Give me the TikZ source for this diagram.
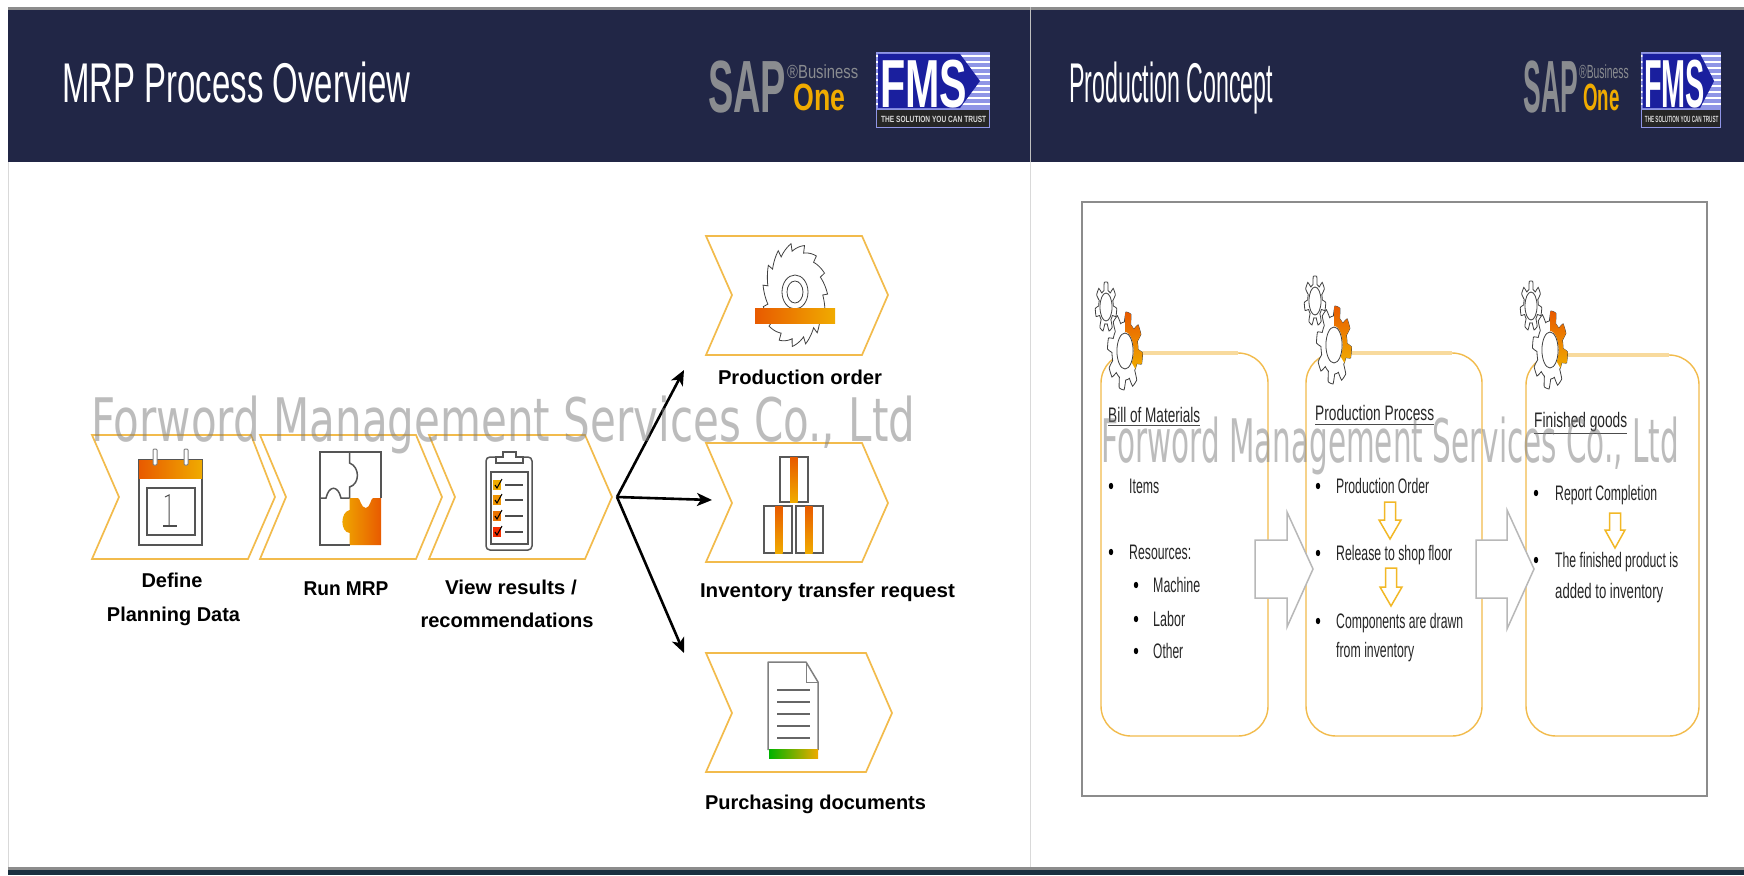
\documentclass[tikz,border=0pt]{standalone}
\usepackage{fontspec}
\setmainfont{Liberation Sans}
\newfontfamily\wmfont{DejaVu Sans}
\usetikzlibrary{calc,arrows.meta}
\definecolor{navy}{HTML}{212646}
\definecolor{gold}{HTML}{F2BB4C}
\definecolor{org}{HTML}{E85A00}
\definecolor{amb}{HTML}{F0AB00}
\definecolor{ico}{HTML}{555555}
\definecolor{sapgray}{HTML}{8A8C90}
\definecolor{fmsblue}{HTML}{1A1F9E}
\definecolor{fmslilac}{HTML}{8F95E6}
\definecolor{teal}{HTML}{1A2F3F}
\newcommand{\fitw}[2]{\resizebox{#1pt}{\height}{#2}}
\newcommand{\gearplot}[5]{plot[domain=#4:#5,samples=241,variable=\x] ({(#1+#2*max(-1,min(1,2.5*sin(#3*\x))))*cos(\x)},{(#1+#2*max(-1,min(1,2.5*sin(#3*\x))))*sin(\x)})}
\newcommand{\gearpair}[2]{%
  \begin{scope}[shift={(#1-19,#2-44)},xscale=.43]
    \draw[gearline,fill=white] \gearplot{21}{4}{7}{0}{360} -- cycle;
    \draw[gearline] (0,0) circle[radius=14pt];
  \end{scope}
  \begin{scope}[shift={(#1,#2)},xscale=.45]
    \draw[gearline,fill=white] \gearplot{34}{5}{8}{0}{360} -- cycle;
    \shade[top color=org,bottom color=amb] \gearplot{34}{5}{8}{-90}{38} -- plot[domain=38:-90,samples=60,variable=\x] ({19*cos(\x)},{19*sin(\x)}) -- cycle;
    \draw[gearline] (0,0) circle[radius=18pt];
  \end{scope}}
\newcommand{\logos}[3]{%
  \begin{scope}[shift={(#1,0)},xscale=#2,shift={(-707,0)},transform shape]
    \node[logotxt,text=sapgray,font=\fontsize{74}{74}\selectfont\bfseries] (#3sap) at (708,112) {\fitw{78}{SAP}};
    \node[logotxt,text=sapgray,font=\fontsize{19}{19}\selectfont] (#3biz) at (787,78) {\fitw{71}{®Business}};
    \node[logotxt,text=amb,font=\fontsize{38}{38}\selectfont\bfseries] (#3one) at (793,110) {\fitw{52}{One}};
    \fill[fmslilac] (876,52) rectangle (990,128);
    \foreach \yy in {56,62,...,104} \draw[white,line width=1.2pt] (876,\yy) -- (990,\yy);
    \fill[fmsblue] (878,54) -- (960,54) -- (980,81) -- (960,108) -- (878,108) -- cycle;
    \node[logotxt,text=white,font=\fontsize{68}{68}\selectfont\bfseries] (#3fms) at (880,107) {\fitw{87}{FMS}};
    \fill[black!85] (877,110) rectangle (989,127);
    \node[logotxt,text=white!85!black,font=\fontsize{9}{9}\selectfont\bfseries] (#3tag) at (881,122) {\fitw{105}{THE SOLUTION YOU CAN TRUST}};
  \end{scope}}
\tikzset{
  x=1pt,y=-1pt,
  chev/.style={draw=gold,line width=1.7pt,line join=miter,fill=white},
  gearline/.style={draw=black!75,line width=.8pt},
  icon/.style={draw=ico,line width=1.5pt},
  logotxt/.style={anchor=base west,inner sep=0pt},
  title/.style={anchor=base west,inner sep=0pt,text=white,font=\fontsize{56}{56}\selectfont},
  lab/.style={anchor=base,inner sep=0pt,text=black,font=\fontsize{20}{20}\selectfont\bfseries},
  body/.style={anchor=base west,inner sep=0pt,text=black!85,font=\fontsize{21}{21}\selectfont},
  roundbox/.style={draw=gold,line width=1.4pt,rounded corners=30pt,fill=white,inner sep=0pt},
  blockarrow/.style={draw=black!28,line width=1.5pt,fill=white,line join=miter},
  smallarrow/.style={draw=amb!85!white,line width=1.5pt,fill=white,line join=miter},
  wm/.style={anchor=base west,inner sep=0pt,text=black!52,opacity=.5,font=\wmfont\fontsize{60}{60}\selectfont},
  dot/.style={fill=black},
  conn/.style={draw=black,line width=2.6pt,-{Stealth[length=15pt,width=13pt,inset=4pt]}},
}
\begin{document}
\begin{tikzpicture}
\useasboundingbox (0,0) rectangle (1744,875);
\fill[white] (0,0) rectangle (1744,875);
% panel frames
\draw[black!15,line width=1pt] (8,162) -- (8,868);
\draw[black!15,line width=1.2pt] (1030.5,162) -- (1030.5,875);
\fill[black!45] (8,7) rectangle (1744,10);
\fill[navy] (8,10) rectangle (1744,162);
\draw[white!75!black,line width=1pt] (1030.5,7) -- (1030.5,162);
\fill[teal] (8,869) rectangle (1744,875);
\fill[black!45] (8,867) rectangle (1744,869.5);
% titles
\node[title] (t1) at (62,102) {\fitw{348}{MRP Process Overview}};
\node[title] (t2) at (1069,102) {\fitw{204}{Production Concept}};
\logos{707}{1}{a}
\logos{1523}{.7}{b}
% chevrons
\draw[chev] (92,435) -- (251,435) -- (275,497) -- (248,559) -- (92,559) -- (119,497) -- cycle;
\draw[chev] (260,435) -- (416,435) -- (442,497) -- (416,559) -- (260,559) -- (286,497) -- cycle;
\draw[chev] (429,435) -- (585,435) -- (612,497) -- (585,559) -- (429,559) -- (455,497) -- cycle;
\draw[chev] (706,236) -- (862,236) -- (888,295) -- (862,355) -- (706,355) -- (732,295) -- cycle;
\draw[chev] (706,443) -- (862,443) -- (888,503) -- (862,562) -- (706,562) -- (732,503) -- cycle;
\draw[chev] (706,653) -- (866,653) -- (892,713) -- (866,772) -- (706,772) -- (732,713) -- cycle;
% calendar
\draw[icon] (139,460) rectangle (202,545);
\shade[left color=org,right color=amb] (139,460) rectangle (202,478);
\draw[icon] (147,488) rectangle (195,535);
\draw[black!50,line width=1pt,fill=white,rounded corners=1pt] (153,449) rectangle (157,465);
\draw[black!50,line width=1pt,fill=white,rounded corners=1pt] (184,449) rectangle (188,465);
\draw[black!70,line width=1pt] (165,497) -- (169,495) -- (169,526);
\draw[black!70,line width=1.3pt] (163,526) -- (177,526);
% puzzle
\shade[left color=amb,right color=org] (349.6,498) -- (358,498) .. controls (360,498) and (361,508) .. (365.7,508) .. controls (370,508) and (371,498) .. (373,498) -- (381,498) -- (381,545) -- (349.6,545) -- (349.6,533) .. controls (340,532) and (340,512) .. (349.6,510) -- cycle;
\draw[icon] (349.6,545) -- (320,545) -- (320,452) -- (381,452) -- (381,498);
\draw[icon] (349.6,452) -- (349.6,463) .. controls (360,467) and (360,484) .. (349.6,487) -- (349.6,498);
\draw[icon] (320,498) -- (326,498) .. controls (329,485) and (338,485) .. (341,498) -- (349.6,498);
% clipboard
\draw[icon,rounded corners=4pt] (486,457) rectangle (532,550);
\draw[icon,line width=1.1pt] (491,472) rectangle (528,544);
\draw[icon,fill=white,line width=1.2pt] (496,463) -- (496,457) -- (503,457) -- (503,452) -- (516,452) -- (516,457) -- (523,457) -- (523,463) -- cycle;
\foreach \yy/\cc in {485/amb,500/amb!70!org,516/amb!30!org,532/red!50!org} {
  \fill[\cc] (493,\yy-5) rectangle (501,\yy+5);
  \draw[black,line width=1pt] (495,\yy) -- (497,\yy+3) -- (502,\yy-6);
  \draw[black!70,line width=1.4pt] (505,\yy) -- (523,\yy);
}
% saw
\begin{scope}[shift={(795,295)},xscale=.63]
  \draw[gearline,fill=white] plot[domain=0:360,samples=361,variable=\x] ({(44+8*mod(15*\x,360)/360)*cos(\x)},{(44+8*mod(15*\x,360)/360)*sin(\x)}) -- cycle;
\end{scope}
\draw[gearline] (795,292) ellipse[x radius=13pt,y radius=17pt];
\draw[gearline] (795,292) ellipse[x radius=8pt,y radius=11pt];
\shade[left color=org,right color=amb] (755,308) rectangle (835,323);
% boxes
\foreach \xa/\xb/\xc/\ya/\yb in {780/808/790/457/502,764/792/775/506/553,796/823/805/506/553} {
  \draw[black!65,line width=1.3pt] (\xa,\ya) rectangle (\xb,\yb);
  \shade[top color=org,bottom color=amb] (\xc,\ya) rectangle (\xc+7.5,\yb);
}
% document
\draw[icon,black!50,line join=round,fill=white] (768,750) -- (768,662) -- (806,662) -- (818,682) -- (818,750);
\draw[icon,black!50,line width=1pt] (806,662) -- (806,682) -- (818,682);
\foreach \yy in {690,702,714,726,738} \draw[black!60,line width=1.5pt] (777,\yy) -- (810,\yy);
\shade[left color=green!70!black,right color=amb] (769,749) rectangle (818,758);
% connectors
\coordinate (fan) at (617,497);
\coordinate (toprod) at (684,370);
\coordinate (toinv) at (712,500);
\coordinate (topur) at (684,653);
\draw[conn] (fan) -- (toprod);
\draw[conn] (fan) -- (toinv);
\draw[conn] (fan) -- (topur);
% left labels
\node[lab] (l1a) at (172,587) {\fitw{61}{Define}};
\node[lab] (l1b) at (173.5,621) {\fitw{133}{Planning Data}};
\node[lab] (l2) at (346,595) {\fitw{85}{Run MRP}};
\node[lab] (l3a) at (511,594) {\fitw{132}{View results /}};
\node[lab] (l3b) at (507,627) {\fitw{173}{recommendations}};
\node[lab] (l4) at (800,384) {\fitw{164}{Production order}};
\node[lab] (l5) at (827.5,597) {\fitw{255}{Inventory transfer request}};
\node[lab] (l6) at (815.5,809) {\fitw{221}{Purchasing documents}};
% right panel
\draw[black!45,line width=1.6pt,fill=white] (1082,202) rectangle (1707,796);
\node[roundbox,minimum width=167pt,minimum height=383pt] (b1) at (1184.5,544.5) {};
\node[roundbox,minimum width=176pt,minimum height=383pt] (b2) at (1394,544.5) {};
\node[roundbox,minimum width=173pt,minimum height=381pt] (b3) at (1612.5,545.5) {};
\draw[gold!55!white,line width=3.5pt] (1130,353) -- (1238,353);
\draw[gold!55!white,line width=3.5pt] (1336,353) -- (1452,353);
\draw[gold!55!white,line width=3.5pt] (1556,355) -- (1669,355);
\draw[blockarrow] (1255,540) -- (1287,540) -- (1287,512) -- (1313,569) -- (1287,627) -- (1287,598) -- (1255,598) -- cycle;
\draw[blockarrow] (1476,540) -- (1507,540) -- (1507,510) -- (1534,569) -- (1507,629) -- (1507,598) -- (1476,598) -- cycle;
\gearpair{1125}{351}
\gearpair{1334}{345}
\gearpair{1550}{350}
% column 1
\node[body] (h1) at (1108,422) {\fitw{92}{Bill of Materials}};
\draw[black!70,line width=1pt] ([yshift=-3pt]h1.base west) -- ([yshift=-3pt]h1.base east);
\foreach \xx/\yy in {1111/486,1111/552,1136/585,1136/619,1136/651,1318/486,1318/553,1318/621,1536/493,1536/560}
  \fill[dot] (\xx,\yy) ellipse[x radius=2.2pt,y radius=3.2pt];
\node[body] (c1a) at (1129,493) {\fitw{30}{Items}};
\node[body] (c1b) at (1129,559) {\fitw{62}{Resources:}};
\node[body] (c1c) at (1153,592) {\fitw{47}{Machine}};
\node[body] (c1d) at (1153,626) {\fitw{32}{Labor}};
\node[body] (c1e) at (1153,658) {\fitw{30}{Other}};
% column 2
\node[body] (h2) at (1315,420) {\fitw{119}{Production Process}};
\draw[black!70,line width=1pt] ([yshift=-4pt]h2.base west) -- ([yshift=-4pt]h2.base east);
\node[body] (c2a) at (1336,493) {\fitw{93}{Production Order}};
\node[body] (c2b) at (1336,560) {\fitw{116}{Release to shop floor}};
\node[body] (c2c) at (1336,628) {\fitw{127}{Components are drawn}};
\node[body] (c2d) at (1336,657) {\fitw{78}{from inventory}};
\draw[smallarrow] (1384.5,502) -- (1395.5,502) -- (1395.5,520) -- (1401,520) -- (1390,539) -- (1379,520) -- (1384.5,520) -- cycle;
\draw[smallarrow] (1385.5,568) -- (1396.5,568) -- (1396.5,587) -- (1402,587) -- (1391,606) -- (1380,587) -- (1385.5,587) -- cycle;
% column 3
\node[body] (h3) at (1534,427) {\fitw{93}{Finished goods}};
\draw[black!70,line width=1pt] ([yshift=-6pt]h3.base west) -- ([yshift=-6pt]h3.base east);
\node[body] (c3a) at (1555,500) {\fitw{102}{Report Completion}};
\node[body] (c3b) at (1555,567) {\fitw{123}{The finished product is}};
\node[body] (c3c) at (1555,598) {\fitw{108}{added to inventory}};
\draw[smallarrow] (1609.5,513) -- (1620.5,513) -- (1620.5,530) -- (1625,530) -- (1615,548) -- (1605,530) -- (1609.5,530) -- cycle;
% watermarks
\node[wm] (w1) at (91,441) {\fitw{824}{Forword Management Services Co., Ltd}};
\node[wm] (w2) at (1101,462) {\fitw{578}{Forword Management Services Co., Ltd}};
\end{tikzpicture}
\end{document}
